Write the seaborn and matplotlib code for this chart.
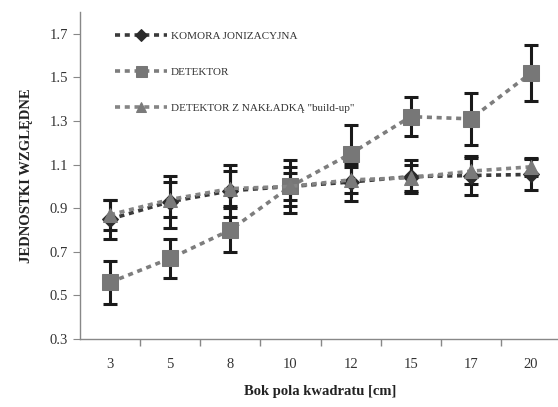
import numpy as np
import matplotlib.pyplot as plt
import pandas as pd
import seaborn as sns

sns.set_theme(style='ticks')
plt.rcParams['font.family'] = ['Liberation Serif', 'DejaVu Serif']

# data
sizes = ['3', '5', '8', '10', '12', '15', '17', '20']
komora = [0.85, 0.93, 0.98, 1.00, 1.02, 1.045, 1.05, 1.055]
komora_err = [0.09, 0.12, 0.12, 0.09, 0.085, 0.075, 0.09, 0.07]
detektor = [0.56, 0.67, 0.80, 1.00, 1.15, 1.32, 1.31, 1.52]
detektor_err = [0.10, 0.09, 0.10, 0.12, 0.13, 0.09, 0.12, 0.13]
buildup = [0.87, 0.94, 0.99, 1.00, 1.03, 1.04, 1.07, 1.09]
buildup_err = [0.07, 0.08, 0.08, 0.06, 0.06, 0.06, 0.06, 0.04]

labels = ['KOMORA JONIZACYJNA', 'DETEKTOR', 'DETEKTOR Z NAKŁADKĄ "build-up"']
series = [(komora, komora_err), (detektor, detektor_err), (buildup, buildup_err)]

df = pd.concat([pd.DataFrame({'bok': sizes, 'val': v, 'err': e, 'seria': lab})
                for (v, e), lab in zip(series, labels)], ignore_index=True)

fig = plt.figure(figsize=(5.58, 4.07), dpi=100)
ax = fig.add_axes([0.1434, 0.167, 0.862, 0.8035])

line_cols = ['#3a3a3a', '#7d7d7d', '#858585']
mark_cols = ['#2b2b2b', '#777777', '#7a7a7a']
markers = ['D', 's', '^']
msizes = [8, 11, 10]

# error bars first, markers sit on top of them
for lab in labels:
    d = df[df['seria'] == lab]
    ax.errorbar(d['bok'], d['val'], yerr=d['err'], fmt='none', ecolor='#1a1a1a',
                elinewidth=2.2, capsize=5, capthick=2.2, zorder=2)

for i, lab in enumerate(labels):
    d = df[df['seria'] == lab]
    sns.lineplot(data=d, x='bok', y='val', ax=ax, sort=False, color=line_cols[i],
                 lw=2.6, dashes=False, zorder=3 + i, label=lab)
    ln = ax.lines[-1]
    ln.set_dashes((1.4, 1.3))
    ln.set_marker(markers[i])
    ln.set_markersize(msizes[i])
    ln.set_markerfacecolor(mark_cols[i])
    ln.set_markeredgecolor(mark_cols[i])

ax.set_ylim(0.3, 1.8)
ax.set_xlim(-0.5, 7.5)
yt = np.arange(0.3, 1.71, 0.2)
ax.set_yticks(yt)
ax.set_yticklabels([f'{t:.1f}' for t in yt], fontsize=10.5, color='#333333')
ax.set_xticks(range(len(sizes)))
ax.set_xticklabels(sizes, fontsize=10.5, color='#333333')
ax.tick_params(axis='x', length=0, pad=14)
ax.set_xticks(np.arange(0.5, 7, 1), minor=True)
ax.tick_params(axis='x', which='minor', length=5, color='#888888', direction='out')
ax.tick_params(axis='y', length=5, color='#888888', width=0.8)
for s in ['top', 'right']:
    ax.spines[s].set_visible(False)
for s in ['left', 'bottom']:
    ax.spines[s].set_color('#888888')
    ax.spines[s].set_linewidth(1.0)

ax.set_xlabel('Bok pola kwadratu [cm]', fontsize=10.5, fontweight='bold', color='#222222', labelpad=10)
ax.set_ylabel('JEDNOSTKI WZGLĘDNE', fontsize=10.5, fontweight='bold', color='#222222', labelpad=12)

leg = ax.legend(loc='upper left', bbox_to_anchor=(0.052, 0.972), frameon=False, fontsize=8,
                handlelength=4.7, labelspacing=2.35, handletextpad=0.3, markerscale=0.72)
for t in leg.get_texts():
    t.set_color('#333333')

fig.savefig('out.png', dpi=100)
